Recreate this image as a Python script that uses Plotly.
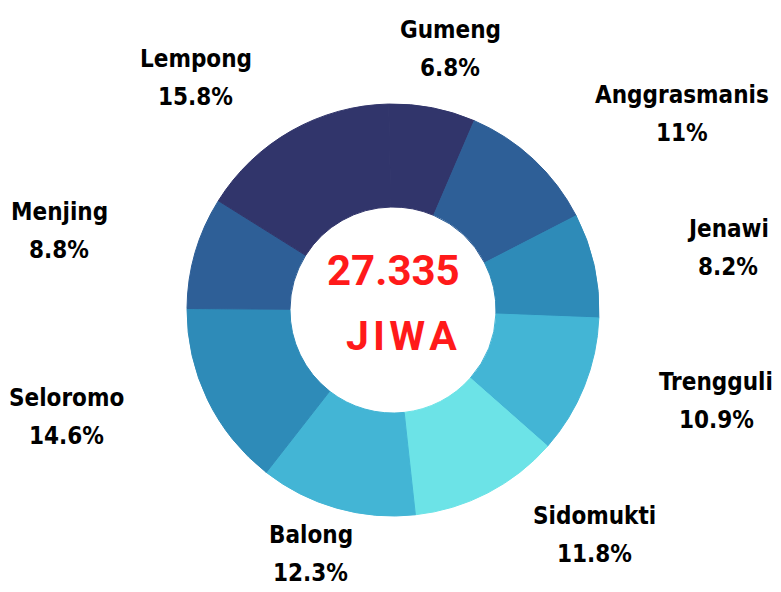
import math
import plotly.graph_objects as go

# population share per desa (percent)
desa = ["Gumeng", "Anggrasmanis", "Jenawi", "Trengguli", "Sidomukti",
        "Balong", "Seloromo", "Menjing", "Lempong"]
persen = [6.8, 11, 8.2, 10.9, 11.8, 12.3, 14.6, 8.8, 15.8]
warna = ["#31356b", "#2e5f97", "#2e8bb8", "#43b5d5", "#6ce3e7",
         "#43b5d5", "#2e8bb8", "#2e5f97", "#31356b"]
total_jiwa = "27.335"

W, H = 781, 592
off = 8  # page body margin shifts the figure
cx, cy, R = 393 - off, 310 - off, 206
rot = -1.2
label_font = dict(family="DejaVu Sans Condensed, sans-serif", size=24,
                  color="#000000", weight="bold")

fig = go.Figure(go.Pie(
    labels=desa,
    values=persen,
    hole=0.5,
    sort=False,
    direction="clockwise",
    rotation=rot,
    marker=dict(colors=warna, line=dict(color=warna, width=1)),
    textinfo="none",
    hoverinfo="label+percent",
    domain=dict(x=[(cx - R) / W, (cx + R) / W],
                y=[1 - (cy + R) / H, 1 - (cy - R) / H]),
))

# outside labels: two lines around each slice's mid angle,
# pushed sideways by roughly half the name width on the left/right
total = sum(persen)
start = rot
for name, v in zip(desa, persen):
    span = v / total * 360
    mid = math.radians(start + span / 2)
    start += span
    s, c = math.sin(mid), math.cos(mid)
    side = 0 if abs(s) < 0.3 else math.copysign(1, s)
    half_w = 7 * len(name)
    lx = cx + 300 * s + side * half_w
    lx = min(max(lx, half_w + 2), W - off - half_w - 2)
    ly = cy - 6 - 260 * c
    for txt, dy in ((name, -19), (f"{v:g}%", 19)):
        fig.add_annotation(
            x=lx / W, y=1 - (ly + dy) / H, xref="paper", yref="paper",
            xanchor="center", yanchor="middle",
            text=txt, showarrow=False, font=label_font,
        )

fig.add_annotation(
    x=cx / W, y=1 - (270 - off) / H, xref="paper", yref="paper",
    xanchor="center", yanchor="middle",
    text=f"<b>{total_jiwa}</b>", showarrow=False,
    font=dict(family="Roboto, sans-serif", size=42, color="#ff1a1a"),
)
fig.add_annotation(
    x=(cx + 8) / W, y=1 - (336 - off) / H, xref="paper", yref="paper",
    xanchor="center", yanchor="middle",
    text="<b>J\u200aI\u200aW\u200aA</b>", showarrow=False,
    font=dict(family="Roboto, sans-serif", size=41, color="#ff1a1a"),
)

fig.update_layout(
    width=W, height=H,
    margin=dict(l=0, r=0, t=0, b=0),
    paper_bgcolor="white",
    plot_bgcolor="white",
    showlegend=False,
)

fig.write_html("out.html")
